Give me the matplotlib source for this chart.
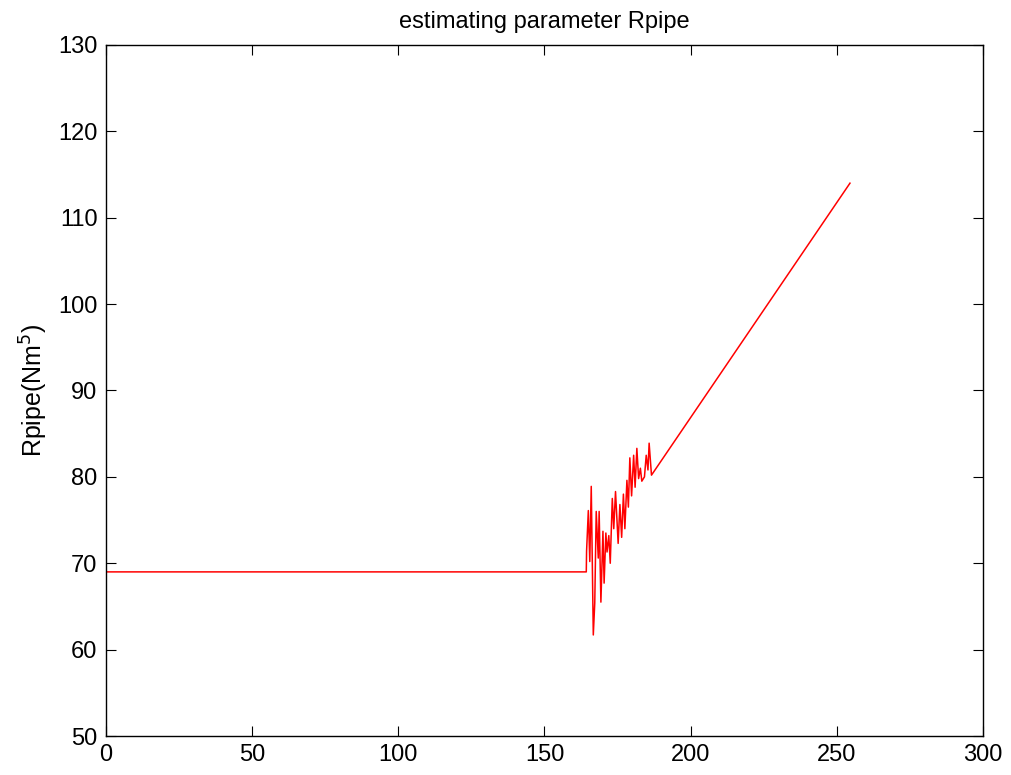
import matplotlib
matplotlib.use("Agg")
import matplotlib.pyplot as plt

plt.rcParams.update({
    "font.family": ["Liberation Sans Narrow", "Liberation Sans", "DejaVu Sans"],
    "font.size": 16,
    "xtick.direction": "in",
    "ytick.direction": "in",
    "xtick.top": True,
    "ytick.right": True,
    "xtick.major.size": 7,
    "ytick.major.size": 7,
    "axes.linewidth": 1.0,
})

# iteration index and estimated Rpipe
x_vals = [0, 164.3, 164.4, 165.0, 165.5, 166.0, 166.7, 167.2, 167.7, 168.4, 168.7,
          169.3, 170.0, 170.4, 171.0, 171.4, 172.0, 172.5, 173.2, 173.7, 174.3,
          175.2, 175.8, 176.4, 177.0, 177.5, 178.2, 178.7, 179.2, 179.8, 180.5,
          181.0, 181.6, 182.2, 182.8, 183.3, 184.2, 184.8, 185.4, 185.8, 186.6,
          254.5]
r_vals = [69.0, 69.0, 71.4, 76.1, 70.2, 78.9, 61.7, 65.4, 76.0, 70.6, 76.0,
          65.5, 73.7, 67.7, 73.5, 71.3, 73.2, 70.0, 77.5, 74.0, 78.3,
          72.3, 76.8, 73.0, 78.0, 74.0, 79.6, 76.5, 82.2, 77.8, 82.5,
          78.8, 83.3, 79.8, 81.0, 79.5, 80.0, 82.5, 80.8, 83.9, 80.2,
          114.0]

xticks = [0, 50, 100, 150, 200, 250, 300]
yticks = [50, 60, 70, 80, 90, 100, 110, 120, 130]

fig = plt.figure(figsize=(10.11, 7.75), dpi=100)
ax = fig.add_axes([0.1048, 0.0503, 0.8675, 0.8917])

ax.plot(x_vals, r_vals, color="red", linewidth=1.1)

ax.set_xlim(0, 300)
ax.set_ylim(50, 130)
ax.set_xticks(xticks)
ax.set_yticks(yticks)
ax.tick_params(labelsize=17, pad=6)

ax.set_title("estimating parameter Rpipe", fontsize=17, pad=12)
ax.set_ylabel("Rpipe(Nm$^5$)", fontsize=18, labelpad=6)

fig.savefig("out.png", dpi=100)
